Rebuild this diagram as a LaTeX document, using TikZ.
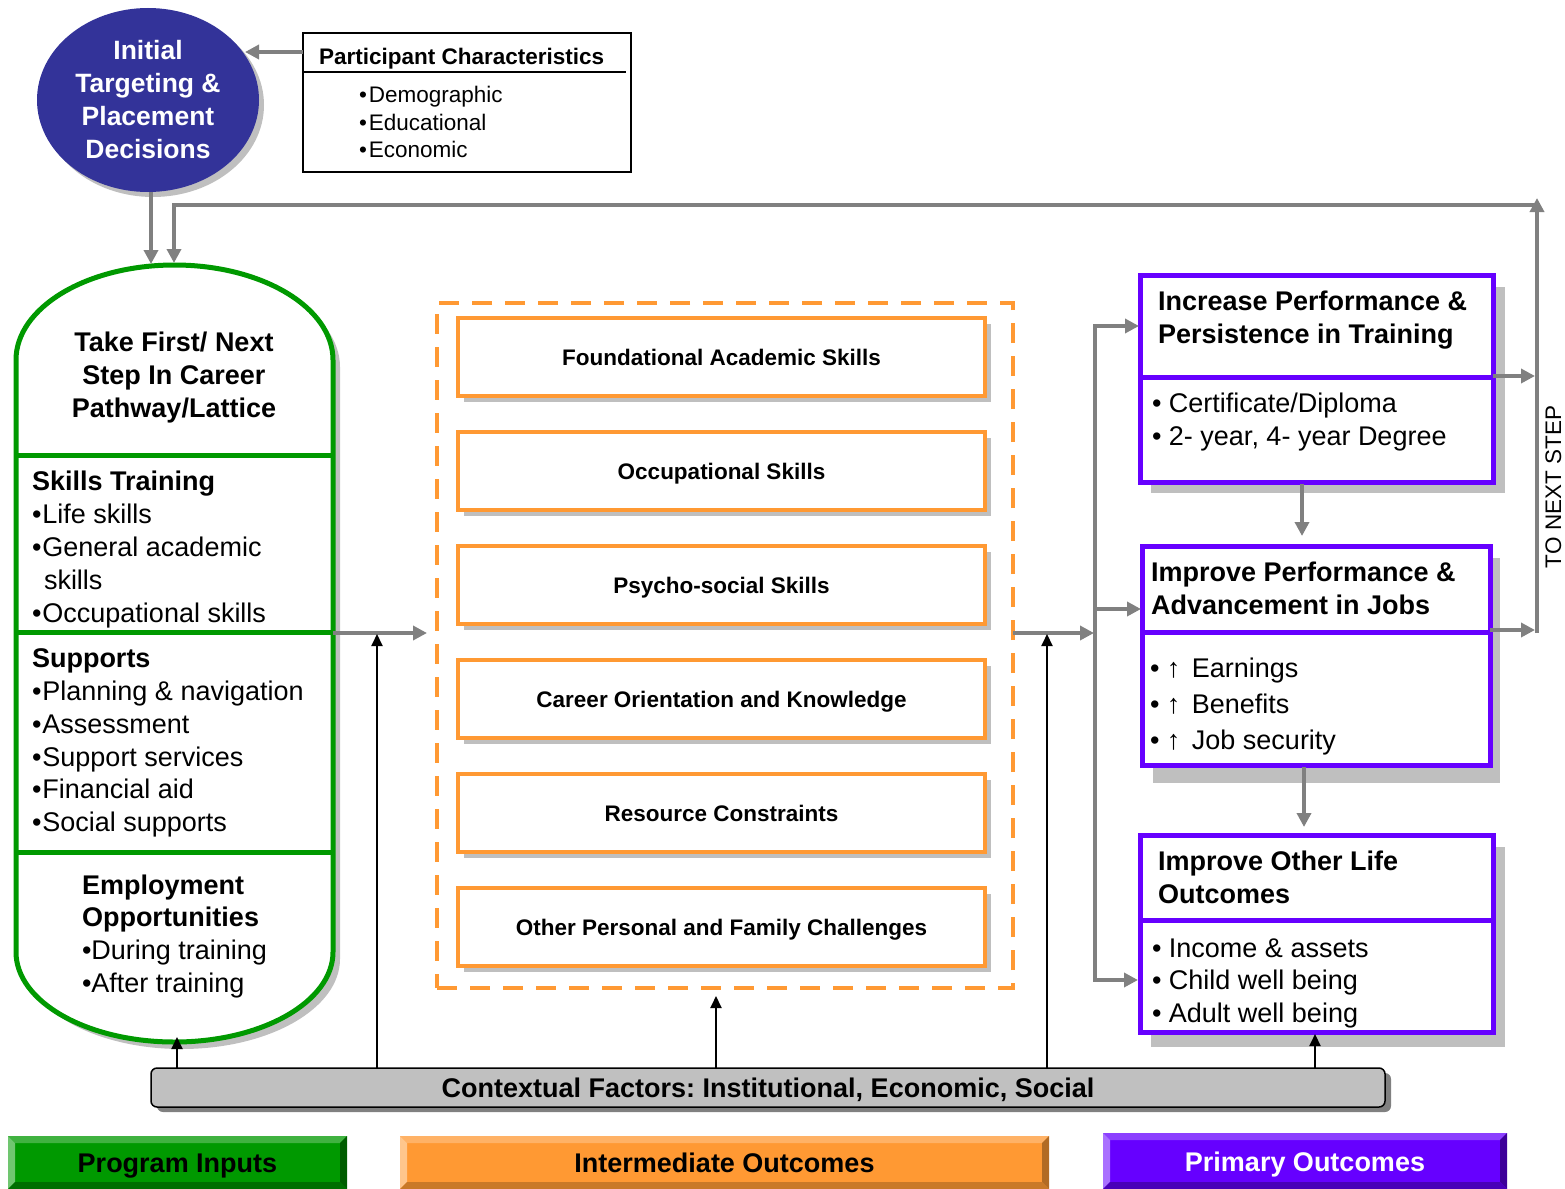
\documentclass[tikz,border=0pt]{standalone}
\usepackage{fontspec}
\setmainfont{Liberation Sans}
\usetikzlibrary{arrows.meta,shapes.geometric,shadows}
\definecolor{dblue}{HTML}{333399}
\definecolor{pgreen}{HTML}{009900}
\definecolor{porange}{HTML}{FF9933}
\definecolor{ppurple}{HTML}{6600FF}
\definecolor{agray}{HTML}{808080}
\definecolor{sgray}{HTML}{BFBFBF}
\definecolor{cgray}{HTML}{C0C0C0}
\frenchspacing
\newcommand{\bevbox}[7]{%
  \fill[#5] (#1,#2) rectangle (#3,#4);
  \fill[#6] (#1,#2) -- (#3,#2) -- (#3-7,#2+7) -- (#1+7,#2+7) -- cycle;
  \fill[#6!75!white] (#1,#2) -- (#1+7,#2+7) -- (#1+7,#4-7) -- (#1,#4) -- cycle;
  \fill[#7] (#3,#2) -- (#3,#4) -- (#3-7,#4-7) -- (#3-7,#2+7) -- cycle;
  \fill[#7!70!#5] (#1,#4) -- (#3,#4) -- (#3-7,#4-7) -- (#1+7,#4-7) -- cycle;
}
\begin{document}
\begin{tikzpicture}[x=1pt,y=-1pt,every node/.style={inner sep=0pt,outer sep=0pt}]
\tikzset{
  garrow/.style={draw=agray,line width=4.5pt,-{Triangle[length=14pt,width=14pt]}},
  gline/.style={draw=agray,line width=4.5pt},
  barrow/.style={draw=black,line width=2pt,-{Triangle[length=12pt,width=11pt]}},
  obox/.style={draw=porange,line width=4.5pt,fill=white,minimum width=527pt,minimum height=78pt,
     font=\fontsize{22.5}{27}\selectfont\bfseries,text height=16.2pt,text depth=0pt,
     drop shadow={shadow xshift=6pt,shadow yshift=-6pt,fill=sgray,opacity=1}},
  pbox/.style={draw=ppurple,line width=5pt,fill=white},
  pshadow/.style={fill=sgray},
  txt/.style={font=\fontsize{27}{33}\selectfont,text height=19.5pt,text depth=0pt,anchor=west},
  txtb/.style={txt,font=\fontsize{27}{33}\selectfont\bfseries},
  sml/.style={font=\fontsize{22.5}{27}\selectfont,text height=16.2pt,text depth=0pt,anchor=west},
  smlb/.style={sml,font=\fontsize{22.5}{27}\selectfont\bfseries},
  mlb/.style={font=\fontsize{27}{33}\selectfont\bfseries},
  lgd/.style={font=\fontsize{27}{33}\selectfont\bfseries,text height=19.5pt,text depth=0pt},
  gcap/.style={draw=pgreen,line width=5pt},
}
\useasboundingbox (0,0) rectangle (1565,1188);

% ---------- Initial targeting ellipse ----------
\node[ellipse,fill=dblue,minimum width=222pt,minimum height=184pt,
  drop shadow={shadow xshift=5pt,shadow yshift=-5pt,fill=sgray,opacity=1},
  text=white,font=\fontsize{26.5}{33}\selectfont\bfseries,align=center] (init) at (148,100)
  {Initial\\Targeting \&\\Placement\\Decisions};

% ---------- Participant characteristics ----------
\node[draw,line width=1.5pt,minimum width=328pt,minimum height=139pt] (part) at (467,102.5) {};
\coordinate (ptl) at (303,72);
\coordinate (ptr) at (626,72);
\draw[line width=1.5pt] (ptl) -- (ptr);
\node[smlb] (ptitle) at (319,56) {Participant Characteristics};
\node[sml] (pi1) at (359,94) {•\hspace{2pt}Demographic};
\node[sml] (pi2) at (359,122) {•\hspace{2pt}Educational};
\node[sml] (pi3) at (359,149) {•\hspace{2pt}Economic};

% ---------- Green capsule (program inputs) ----------
\draw[gcap,fill=white,drop shadow={shadow xshift=7pt,shadow yshift=-7pt,fill=sgray,opacity=1}]
  (16,360) arc[start angle=180,end angle=360,x radius=158.5,y radius=95]
  -- (333,952) arc[start angle=0,end angle=180,x radius=158.5,y radius=90] -- cycle;
\coordinate (d1l) at (16,455);  \coordinate (d1r) at (333,455);
\coordinate (d2l) at (16,632);  \coordinate (d2r) at (333,632);
\coordinate (d3l) at (16,852);  \coordinate (d3r) at (333,852);
\draw[gcap] (d1l) -- (d1r);
\draw[gcap] (d2l) -- (d2r);
\draw[gcap] (d3l) -- (d3r);
\node[mlb,align=center] (take) at (174,378) {Take First/ Next\\Step In Career\\Pathway/Lattice};
\node[txtb] (skt) at (32,481) {Skills Training};
\node[txt] (sk1) at (32,514) {•\hspace{1pt}Life skills};
\node[txt] (sk2) at (32,547) {•\hspace{1pt}General academic};
\node[txt] (sk3) at (44,580) {skills};
\node[txt] (sk4) at (32,613) {•\hspace{1pt}Occupational skills};
\node[txtb] (sut) at (32,658) {Supports};
\node[txt] (su1) at (32,691) {•\hspace{1pt}Planning \& navigation};
\node[txt] (su2) at (32,724) {•\hspace{1pt}Assessment};
\node[txt] (su3) at (32,757) {•\hspace{1pt}Support services};
\node[txt] (su4) at (32,789) {•\hspace{1pt}Financial aid};
\node[txt] (su5) at (32,822) {•\hspace{1pt}Social supports};
\node[txtb] (emt) at (82,885) {Employment};
\node[txtb] (emt2) at (82,917) {Opportunities};
\node[txt] (em1) at (82,950) {•During training};
\node[txt] (em2) at (82,983) {•After training};

% ---------- Orange intermediate outcomes ----------
\node[draw=porange,line width=4pt,dash pattern=on 20pt off 13pt,minimum width=576pt,minimum height=685pt] (dash) at (725,645.5) {};
\node[obox] (o1) at (721.5,357) {Foundational Academic Skills};
\node[obox] (o2) at (721.5,471) {Occupational Skills};
\node[obox] (o3) at (721.5,585) {Psycho-social Skills};
\node[obox] (o4) at (721.5,699) {Career Orientation and Knowledge};
\node[obox] (o5) at (721.5,813) {Resource Constraints};
\node[obox] (o6) at (721.5,927) {Other Personal and Family Challenges};

% ---------- Purple primary outcomes ----------
\fill[pshadow] (1151,287) rectangle (1505,493);
\fill[pshadow] (1153,558) rectangle (1500,783);
\fill[pshadow] (1151,847) rectangle (1505,1047);
\node[pbox,minimum width=353pt,minimum height=102pt] (p1t) at (1316.5,326) {};
\node[pbox,minimum width=353pt,minimum height=105pt] (p1b) at (1316.5,429.5) {};
\node[pbox,minimum width=348pt,minimum height=86pt] (p2t) at (1316,589) {};
\node[pbox,minimum width=348pt,minimum height=133pt] (p2b) at (1316,698.5) {};
\node[pbox,minimum width=353pt,minimum height=85pt] (p3t) at (1316.5,877.5) {};
\node[pbox,minimum width=353pt,minimum height=112pt] (p3b) at (1316.5,976) {};
\node[mlb,align=left,anchor=west] (p1title) at (1158,320.5) {Increase Performance \&\\Persistence in Training};
\node[txt] (p1i1) at (1152,403) {• Certificate/Diploma};
\node[txt] (p1i2) at (1152,436) {• 2- year, 4- year Degree};
\node[mlb,align=left,anchor=west] (p2title) at (1151,588.5) {Improve Performance \&\\Advancement in Jobs};
\node[txt] (p2i1) at (1150,668) {• ↑\hspace{4pt} Earnings};
\node[txt] (p2i2) at (1150,704) {• ↑\hspace{4pt} Benefits};
\node[txt] (p2i3) at (1150,740) {• ↑\hspace{4pt} Job security};
\node[mlb,align=left,anchor=west] (p3title) at (1158,877.5) {Improve Other Life\\Outcomes};
\node[txt] (p3i1) at (1152,948) {• Income \& assets};
\node[txt] (p3i2) at (1152,980) {• Child well being};
\node[txt] (p3i3) at (1152,1013) {• Adult well being};

\node[sml,rotate=90,anchor=center] (nxt) at (1553,487) {TO NEXT STEP};

% ---------- Contextual factors bar ----------
\node[draw,line width=1.5pt,fill=cgray,rounded corners=6pt,minimum width=1234pt,minimum height=39pt,
  drop shadow={shadow xshift=6pt,shadow yshift=-5pt,fill=agray,opacity=1},
  lgd] (ctx) at (768,1087.5) {Contextual Factors: Institutional, Economic, Social};

% ---------- Legend ----------
\bevbox{8}{1136}{347}{1189}{pgreen}{pgreen!75!white}{pgreen!60!black}
\bevbox{400}{1136}{1049}{1189}{porange}{porange!75!white}{porange!70!black}
\bevbox{1103}{1133}{1507}{1189}{ppurple}{ppurple!75!white}{ppurple!60!black}
\node[lgd] (lg1) at (177.5,1163) {Program Inputs};
\node[lgd] (lg2) at (724.5,1163) {Intermediate Outcomes};
\node[lgd,text=white] (lg3) at (1305,1162) {Primary Outcomes};

% ---------- Connectors ----------
\coordinate (pa1) at (303,52);   \coordinate (pa2) at (245,52);
\draw[garrow] (pa1) -- (pa2);
\coordinate (ia1) at (151,192);  \coordinate (ia2) at (151,264);
\draw[garrow] (ia1) -- (ia2);
\coordinate (fbb) at (1537,633); \coordinate (fbt) at (1537,198);
\coordinate (fbr) at (1537,205); \coordinate (fbl) at (174,205); \coordinate (fbe) at (174,263);
\draw[garrow] (fbb) -- (fbt);
\draw[garrow] (fbr) -- (fbl) -- (fbe);
\coordinate (c1) at (333,633);   \coordinate (c2) at (427,633);
\draw[garrow] (c1) -- (c2);
\coordinate (c3) at (1013,633);  \coordinate (c4) at (1094,633);
\draw[garrow] (c3) -- (c4);
\coordinate (v1) at (1139,326);  \coordinate (v2) at (1095,326);
\coordinate (v3) at (1095,980);  \coordinate (v4) at (1138,980);
\draw[gline,{Triangle[length=14pt,width=14pt]}-{Triangle[length=14pt,width=14pt]}] (v1) -- (v2) -- (v3) -- (v4);
\coordinate (v5) at (1095,609);  \coordinate (v6) at (1141,609);
\draw[garrow] (v5) -- (v6);
\coordinate (r1) at (1493,376);  \coordinate (r2) at (1535,376);
\draw[garrow] (r1) -- (r2);
\coordinate (r3) at (1490,630);  \coordinate (r4) at (1535,630);
\draw[garrow] (r3) -- (r4);
\coordinate (dn1) at (1302,484); \coordinate (dn2) at (1302,536);
\draw[garrow] (dn1) -- (dn2);
\coordinate (dn3) at (1304,767); \coordinate (dn4) at (1304,827);
\draw[garrow] (dn3) -- (dn4);
% black arrows from contextual factors
\coordinate (b1) at (177,1068);  \coordinate (b1e) at (177,1037);
\coordinate (b2) at (377,1068);  \coordinate (b2e) at (377,634);
\coordinate (b3) at (716,1068);  \coordinate (b3e) at (716,996);
\coordinate (b4) at (1047,1068); \coordinate (b4e) at (1047,634);
\coordinate (b5) at (1315,1068); \coordinate (b5e) at (1315,1034);
\draw[barrow] (b1) -- (b1e);
\draw[barrow] (b2) -- (b2e);
\draw[barrow] (b3) -- (b3e);
\draw[barrow] (b4) -- (b4e);
\draw[barrow] (b5) -- (b5e);
\end{tikzpicture}
\end{document}
